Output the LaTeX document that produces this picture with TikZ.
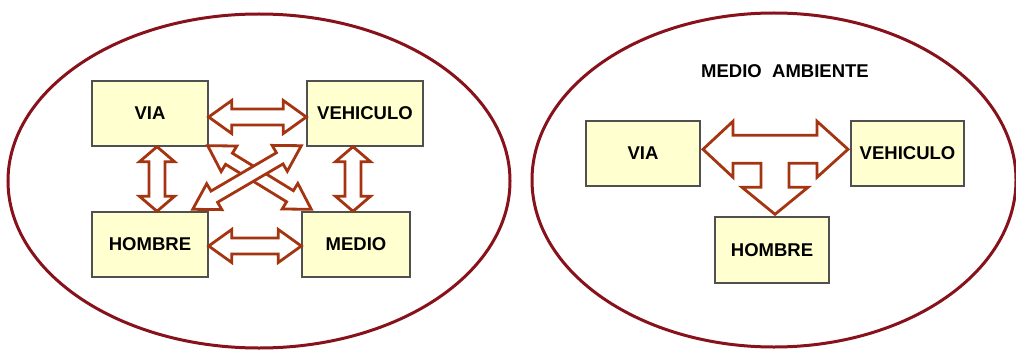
\documentclass[tikz,border=0pt]{standalone}
\usepackage{fontspec}
\setmainfont{Liberation Sans}
\usetikzlibrary{calc}
\definecolor{arrowc}{RGB}{165,52,16}
\definecolor{ellc}{RGB}{136,18,28}
\definecolor{boxfill}{RGB}{255,255,208}
\definecolor{boxline}{RGB}{80,80,80}
% double-headed outlined arrow from #1 to #2; half head width #3, half shaft width #4, head length #5
\newcommand\dblarr[5]{%
  \path (#1); \pgfgetlastxy{\dAx}{\dAy}%
  \path (#2); \pgfgetlastxy{\dBx}{\dBy}%
  \pgfmathsetmacro\dAng{atan2(\dBy-\dAy,\dBx-\dAx)}%
  \pgfmathsetmacro\dLen{veclen(\dBx-\dAx,\dBy-\dAy)}%
  \begin{scope}[shift={(\dAx,\dAy)}, rotate=\dAng]
    \draw[arr] (0,0) -- (#5,#3) -- (#5,#4) -- (\dLen-#5,#4) -- (\dLen-#5,#3) -- (\dLen,0)
      -- (\dLen-#5,-#3) -- (\dLen-#5,-#4) -- (#5,-#4) -- (#5,-#3) -- cycle;
  \end{scope}%
}
\begin{document}
\begin{tikzpicture}[x=1pt,y=-1pt,
  lbl/.style={font=\fontsize{18.5}{22}\selectfont\bfseries},
  box/.style={lbl, draw=boxline, line width=1.4pt, fill=boxfill, minimum height=65pt, inner sep=0pt},
  ell/.style={draw=ellc, line width=3pt},
  arr/.style={draw=arrowc, line width=2.8pt, fill=white}]
\useasboundingbox (0,0) rectangle (1016,350);
\fill[white] (0,0) rectangle (1016,350);
% ellipses
\draw[ell] (259,181) ellipse [x radius=251, y radius=167];
\draw[ell] (774,180) ellipse [x radius=242, y radius=167];
% left diagram boxes
\node[box, minimum width=116pt] (via) at (150,113.5) {VIA};
\node[box, minimum width=116pt] (veh) at (365,113.5) {VEHICULO};
\node[box, minimum width=116pt] (hom) at (150,244.5) {HOMBRE};
\node[box, minimum width=108pt] (med) at (356,244.5) {MEDIO};
% left diagram arrows
\coordinate (a1) at ([yshift=-3.5pt]via.east);
\coordinate (a2) at ([yshift=-3.5pt]veh.west);
\dblarr{a1}{a2}{16.5}{8}{23}
\coordinate (b1) at ([yshift=-1.5pt]hom.east);
\coordinate (b2) at ([yshift=-1.5pt]med.west);
\dblarr{b1}{b2}{16.5}{8}{23}
\coordinate (c1) at ([xshift=7pt]via.south);
\coordinate (c2) at (c1 |- hom.north);
\dblarr{c1}{c2}{17.5}{8}{15}
\coordinate (d1) at ([xshift=-12pt]veh.south);
\coordinate (d2) at (d1 |- med.north);
\dblarr{d1}{d2}{17.5}{8}{15}
\coordinate (e1) at ([xshift=-1pt,yshift=1pt]via.south east);
\coordinate (e2) at ([xshift=10pt,yshift=2pt]med.north west);
\dblarr{e1}{e2}{15}{6.5}{25}
\coordinate (f1) at ([xshift=-16pt,yshift=2pt]hom.north east);
\coordinate (f2) at ([xshift=-5pt,yshift=1pt]veh.south west);
\dblarr{f1}{f2}{15}{6.5}{25}
% right diagram
\node[lbl] (title) at (785,71) {MEDIO\ \ AMBIENTE};
\node[box, minimum width=114pt] (via2) at (643,153.5) {VIA};
\node[box, minimum width=113pt] (veh2) at (907.5,153.5) {VEHICULO};
\node[box, minimum width=114pt, minimum height=66pt] (hom2) at (772,250) {HOMBRE};
\coordinate (t0) at ([xshift=3pt,yshift=2pt]hom2.north);
\draw[arr] (t0) -- ++(-33,-27) -- ++(19,0) -- ++(0,-24) -- ++(-28,0) -- ++(0,14) -- ++(-30,-28)
  -- ++(30,-28) -- ++(0,14) -- ++(84,0) -- ++(0,-14) -- ++(31,28) -- ++(-31,28) -- ++(0,-14)
  -- ++(-28,0) -- ++(0,24) -- ++(19,0) -- cycle;
\end{tikzpicture}
\end{document}
